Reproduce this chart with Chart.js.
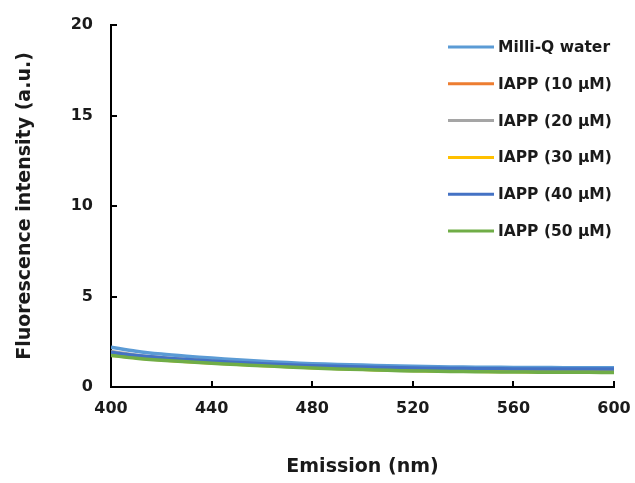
<!DOCTYPE html>
<html lang="en">
<head>
    <meta charset="UTF-8">
    <title>Fluorescence intensity</title>
    <script src="https://cdn.jsdelivr.net/npm/chart.js"></script>
    <style>
        body {
            margin: 0;
            padding: 0;
            background: #fff;
        }
        .container {
            width: 635px;
            height: 483px;
        }
    </style>
</head>
<body>
    <div class="container">
        <canvas id="emissionChart" width="635" height="483"></canvas>
    </div>
    <script>
        // emission wavelengths (nm)
        const wavelengths = [400, 410, 420, 430, 440, 450, 460, 470, 480, 490, 500,
                             510, 520, 530, 540, 550, 560, 570, 580, 590, 600];

        const milliQ = [2.20, 1.98, 1.82, 1.70, 1.60, 1.50, 1.42, 1.35, 1.29, 1.25, 1.21,
                        1.17, 1.14, 1.12, 1.10, 1.09, 1.08, 1.08, 1.07, 1.07, 1.07];
        const iapp10 = [1.88, 1.72, 1.59, 1.49, 1.40, 1.32, 1.25, 1.19, 1.13, 1.09, 1.05,
                        1.01, 0.98, 0.96, 0.95, 0.94, 0.93, 0.92, 0.92, 0.92, 0.92];
        const iapp20 = [1.96, 1.76, 1.62, 1.51, 1.42, 1.34, 1.27, 1.20, 1.15, 1.10, 1.06,
                        1.03, 1.00, 0.98, 0.96, 0.95, 0.94, 0.93, 0.93, 0.93, 0.93];
        const iapp30 = [1.76, 1.61, 1.50, 1.41, 1.33, 1.26, 1.19, 1.13, 1.07, 1.02, 0.98,
                        0.94, 0.91, 0.89, 0.87, 0.86, 0.85, 0.84, 0.83, 0.83, 0.82];
        const iapp40 = [1.90, 1.74, 1.62, 1.52, 1.44, 1.36, 1.29, 1.23, 1.18, 1.14, 1.11,
                        1.08, 1.05, 1.03, 1.02, 1.01, 1.00, 1.00, 0.99, 0.99, 0.99];
        const iapp50 = [1.74, 1.59, 1.48, 1.39, 1.31, 1.24, 1.17, 1.11, 1.05, 1.00, 0.96,
                        0.92, 0.89, 0.87, 0.85, 0.84, 0.83, 0.82, 0.81, 0.81, 0.80];

        const seriesNames = ['Milli-Q water', 'IAPP (10 \u00B5M)', 'IAPP (20 \u00B5M)',
                             'IAPP (30 \u00B5M)', 'IAPP (40 \u00B5M)', 'IAPP (50 \u00B5M)'];
        const seriesData = [milliQ, iapp10, iapp20, iapp30, iapp40, iapp50];
        const seriesColors = ['#5B9BD5', '#ED7D31', '#A5A5A5', '#FFC000', '#4472C4', '#70AD47'];

        const fontFamily = '"DejaVu Sans", Arial, sans-serif';

        // legend drawn inside the plot, top right
        const insideLegend = {
            id: 'insideLegend',
            afterDraw(chart) {
                const ctx = chart.ctx;
                ctx.save();
                ctx.font = 'bold 15.5px ' + fontFamily;
                ctx.textBaseline = 'middle';
                ctx.fillStyle = '#1a1a1a';
                seriesNames.forEach((name, i) => {
                    const y = 47 + i * 36.8;
                    ctx.strokeStyle = seriesColors[i];
                    ctx.lineWidth = 3;
                    ctx.beginPath();
                    ctx.moveTo(448, y);
                    ctx.lineTo(494, y);
                    ctx.stroke();
                    ctx.fillText(name, 498, y + 1);
                });
                ctx.restore();
            }
        };

        // later series are painted over earlier ones (as in the original)
        const datasets = seriesNames.map((name, i) => ({
            label: name,
            data: wavelengths.map((w, j) => ({ x: w, y: seriesData[i][j] })),
            borderColor: seriesColors[i],
            backgroundColor: seriesColors[i],
            borderWidth: 3.5,
            pointRadius: 0,
            tension: 0.3,
            fill: false,
            order: seriesNames.length - i
        }));

        new Chart(document.getElementById('emissionChart').getContext('2d'), {
            type: 'line',
            data: { datasets: datasets },
            options: {
                responsive: false,
                animation: false,
                layout: { padding: { top: 25, right: 21, left: 0, bottom: 0 } },
                plugins: {
                    legend: { display: false },
                    tooltip: { enabled: false }
                },
                scales: {
                    x: {
                        type: 'linear',
                        min: 400,
                        max: 600,
                        ticks: {
                            stepSize: 40,
                            padding: 18,
                            color: '#1a1a1a',
                            font: { family: fontFamily, size: 16, weight: 'bold' },
                            maxRotation: 0
                        },
                        grid: {
                            drawOnChartArea: false,
                            color: '#000',
                            lineWidth: 2,
                            tickLength: -6
                        },
                        border: { display: true, color: '#000', width: 2 },
                        title: {
                            display: true,
                            text: 'Emission (nm)',
                            color: '#1a1a1a',
                            font: { family: fontFamily, size: 19, weight: 'bold' },
                            padding: { top: 5, bottom: 5 }
                        },
                        afterFit(scale) {
                            scale.height = 96;
                            scale.paddingLeft = 0;
                            scale.paddingRight = 0;
                        }
                    },
                    y: {
                        min: 0,
                        max: 20,
                        ticks: {
                            stepSize: 5,
                            padding: 24,
                            color: '#1a1a1a',
                            font: { family: fontFamily, size: 16, weight: 'bold' }
                        },
                        grid: {
                            drawOnChartArea: false,
                            color: '#000',
                            lineWidth: 2,
                            tickLength: -6
                        },
                        border: { display: true, color: '#000', width: 2 },
                        title: {
                            display: true,
                            text: 'Fluorescence intensity (a.u.)',
                            color: '#1a1a1a',
                            font: { family: fontFamily, size: 19, weight: 'bold' },
                            padding: { top: 14, bottom: 14 }
                        },
                        afterFit(scale) {
                            scale.width = 111;
                            scale.paddingTop = 0;
                            scale.paddingBottom = 0;
                        }
                    }
                }
            },
            plugins: [insideLegend]
        });
    </script>
</body>
</html>
